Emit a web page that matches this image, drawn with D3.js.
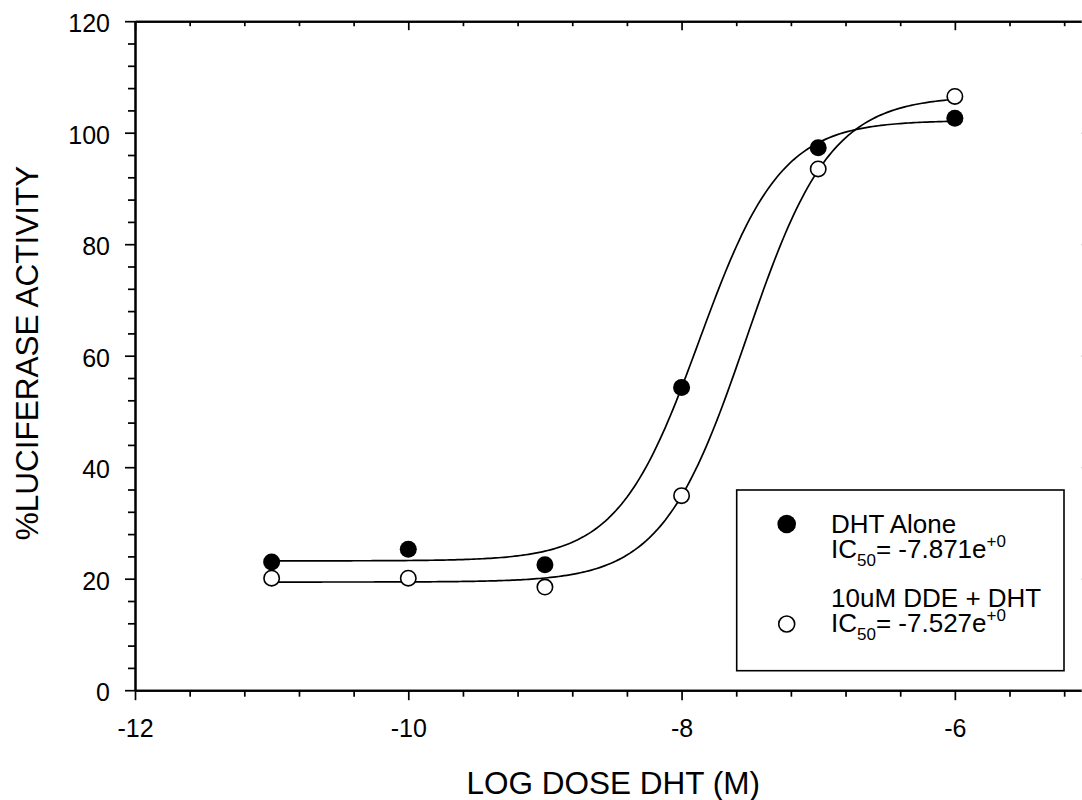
<!DOCTYPE html>
<html>
<head>
<meta charset="utf-8">
<script src="https://cdn.jsdelivr.net/npm/d3@7"></script>
<style>
  html, body { margin: 0; padding: 0; background: #fff; overflow: hidden; }
  svg { display: block; font-family: "Liberation Sans", Arial, sans-serif; }
</style>
</head>
<body>
<svg id="chart" width="1082" height="800"></svg>
<script>
// Log dose of DHT (M) at which luciferase activity was measured
const logDose = [-11, -10, -9, -8, -7, -6];
// % luciferase activity, DHT alone
const dhtAlone = [23.0, 25.3, 22.5, 54.3, 97.3, 102.6];
// % luciferase activity, 10uM DDE + DHT
const ddePlusDht = [20.1, 20.1, 18.5, 34.9, 93.5, 106.5];

// Four-parameter logistic fits (series order: DHT alone, DDE + DHT)
const fitIC50 = [-7.871, -7.527];
const fitBottom = [23.2, 19.4];
const fitTop = [102.2, 106.6];
const fitHill = [1.46, 1.41];

const seriesNames = ["DHT Alone", "10uM DDE + DHT"];
const ic50Labels = ["-7.871e", "-7.527e"];

const xMajorTicks = [-12, -10, -8, -6];
const yMajorTicks = [0, 20, 40, 60, 80, 100, 120];

const svg = d3.select("#chart");

const x = d3.scaleLinear().domain([-12, -5]).range([135, 1091.5]);
const y = d3.scaleLinear().domain([0, 120]).range([690.2, 21.2]);

const xMinor = d3.range(0, 18).map(i => -12 + i * 0.4).filter(v => Math.abs(v - Math.round(v / 2) * 2) > 1e-6);
const yMinor = d3.range(0, 121, 4).filter(v => v % 20 !== 0);

const tickFont = 25;

function styleAxis(g, width) {
  g.select(".domain").attr("stroke", "#000").attr("stroke-width", width);
  g.selectAll(".tick line").attr("stroke", "#000").attr("stroke-width", 1.7);
}

// bottom axis: outward ticks, labelled majors
const gxMinor = svg.append("g").attr("transform", `translate(0,${y(0)})`)
  .call(d3.axisBottom(x).tickValues(xMinor).tickSize(6.5).tickSizeOuter(0).tickFormat(""));
styleAxis(gxMinor, 2);
const gx = svg.append("g").attr("transform", `translate(0,${y(0)})`)
  .call(d3.axisBottom(x).tickValues(xMajorTicks).tickSize(10).tickSizeOuter(0).tickPadding(19)
    .tickFormat(d => String(d)));
styleAxis(gx, 2);
gx.selectAll("text").attr("fill", "#000").attr("font-size", tickFont)
  .attr("font-family", "Liberation Sans, Arial, sans-serif");

// left axis
const gyMinor = svg.append("g").attr("transform", `translate(${x(-12)},0)`)
  .call(d3.axisLeft(y).tickValues(yMinor).tickSize(7).tickSizeOuter(0).tickFormat(""));
styleAxis(gyMinor, 2);
const gy = svg.append("g").attr("transform", `translate(${x(-12)},0)`)
  .call(d3.axisLeft(y).tickValues(yMajorTicks).tickSize(10).tickSizeOuter(0).tickPadding(15)
    .tickFormat(d => String(d)));
styleAxis(gy, 2);
gy.selectAll("text").attr("fill", "#000").attr("font-size", tickFont).attr("dy", "0.42em")
  .attr("font-family", "Liberation Sans, Arial, sans-serif");

// top axis: inward ticks
const gtMinor = svg.append("g").attr("transform", `translate(0,${y(120)})`)
  .call(d3.axisTop(x).tickValues(xMinor).tickSize(-5).tickSizeOuter(0).tickFormat(""));
styleAxis(gtMinor, 2);
const gt = svg.append("g").attr("transform", `translate(0,${y(120)})`)
  .call(d3.axisTop(x).tickValues(xMajorTicks).tickSize(-9).tickSizeOuter(0).tickFormat(""));
styleAxis(gt, 2);

// right axis: inward ticks
const grMinor = svg.append("g").attr("transform", `translate(${x(-5)},0)`)
  .call(d3.axisRight(y).tickValues(yMinor).tickSize(-5).tickSizeOuter(0).tickFormat(""));
styleAxis(grMinor, 2);
const gr = svg.append("g").attr("transform", `translate(${x(-5)},0)`)
  .call(d3.axisRight(y).tickValues(yMajorTicks).tickSize(-10).tickSizeOuter(0).tickFormat(""));
styleAxis(gr, 2);
gr.selectAll(".tick line").attr("stroke", "#bbb");

// fitted sigmoid curves
function logistic(i, v) {
  return fitBottom[i] + (fitTop[i] - fitBottom[i]) / (1 + Math.pow(10, (fitIC50[i] - v) * fitHill[i]));
}
const curveX = d3.range(0, 251).map(k => logDose[0] + k * (logDose[logDose.length - 1] - logDose[0]) / 250);
const line = d3.line().x(d => x(d[0])).y(d => y(d[1]));
[0, 1].forEach(i => {
  svg.append("path")
    .datum(curveX.map(v => [v, logistic(i, v)]))
    .attr("d", line)
    .attr("fill", "none")
    .attr("stroke", "#000")
    .attr("stroke-width", 1.7);
});

// data points
svg.append("g").selectAll("circle")
  .data(logDose.map((d, i) => [d, dhtAlone[i]]))
  .join("circle")
  .attr("cx", d => x(d[0])).attr("cy", d => y(d[1])).attr("r", 8.5)
  .attr("fill", "#000");
svg.append("g").selectAll("circle")
  .data(logDose.map((d, i) => [d, ddePlusDht[i]]))
  .join("circle")
  .attr("cx", d => x(d[0])).attr("cy", d => y(d[1])).attr("r", 7.7)
  .attr("fill", "#fff").attr("stroke", "#000").attr("stroke-width", 1.6);

// axis titles
svg.append("text")
  .attr("x", (x(-12) + x(-5)) / 2).attr("y", 794)
  .attr("text-anchor", "middle").attr("font-size", 31.5).attr("fill", "#000")
  .text("LOG DOSE DHT (M)");
svg.append("text")
  .attr("transform", `translate(38,353) rotate(-90)`)
  .attr("text-anchor", "middle").attr("font-size", 31.5).attr("fill", "#000")
  .text("%LUCIFERASE ACTIVITY");

// legend
const lg = svg.append("g");
lg.append("rect")
  .attr("x", 736.7).attr("y", 490).attr("width", 327.3).attr("height", 180.7)
  .attr("fill", "#fff").attr("stroke", "#000").attr("stroke-width", 1.6);
lg.append("circle").attr("cx", 786.7).attr("cy", 524).attr("r", 9.3).attr("fill", "#000");
lg.append("circle").attr("cx", 786.7).attr("cy", 624).attr("r", 8).attr("fill", "#fff")
  .attr("stroke", "#000").attr("stroke-width", 1.6);

// each legend entry is one two-line text: series name, then its IC50
const legendFont = 26;
const nameBaselines = [532.7, 606.7];
[0, 1].forEach(i => {
  const t = lg.append("text").attr("x", 831).attr("y", nameBaselines[i])
    .attr("font-size", legendFont).attr("fill", "#000");
  t.append("tspan").text(seriesNames[i]);
  t.append("tspan").attr("x", 831).attr("dy", 25.3).text("IC");
  t.append("tspan").attr("font-size", 17).attr("dy", 8).text("50");
  t.append("tspan").attr("dy", -8).text("= " + ic50Labels[i]);
  t.append("tspan").attr("font-size", 17).attr("dy", -11).text("+0");
});
</script>
</body>
</html>
